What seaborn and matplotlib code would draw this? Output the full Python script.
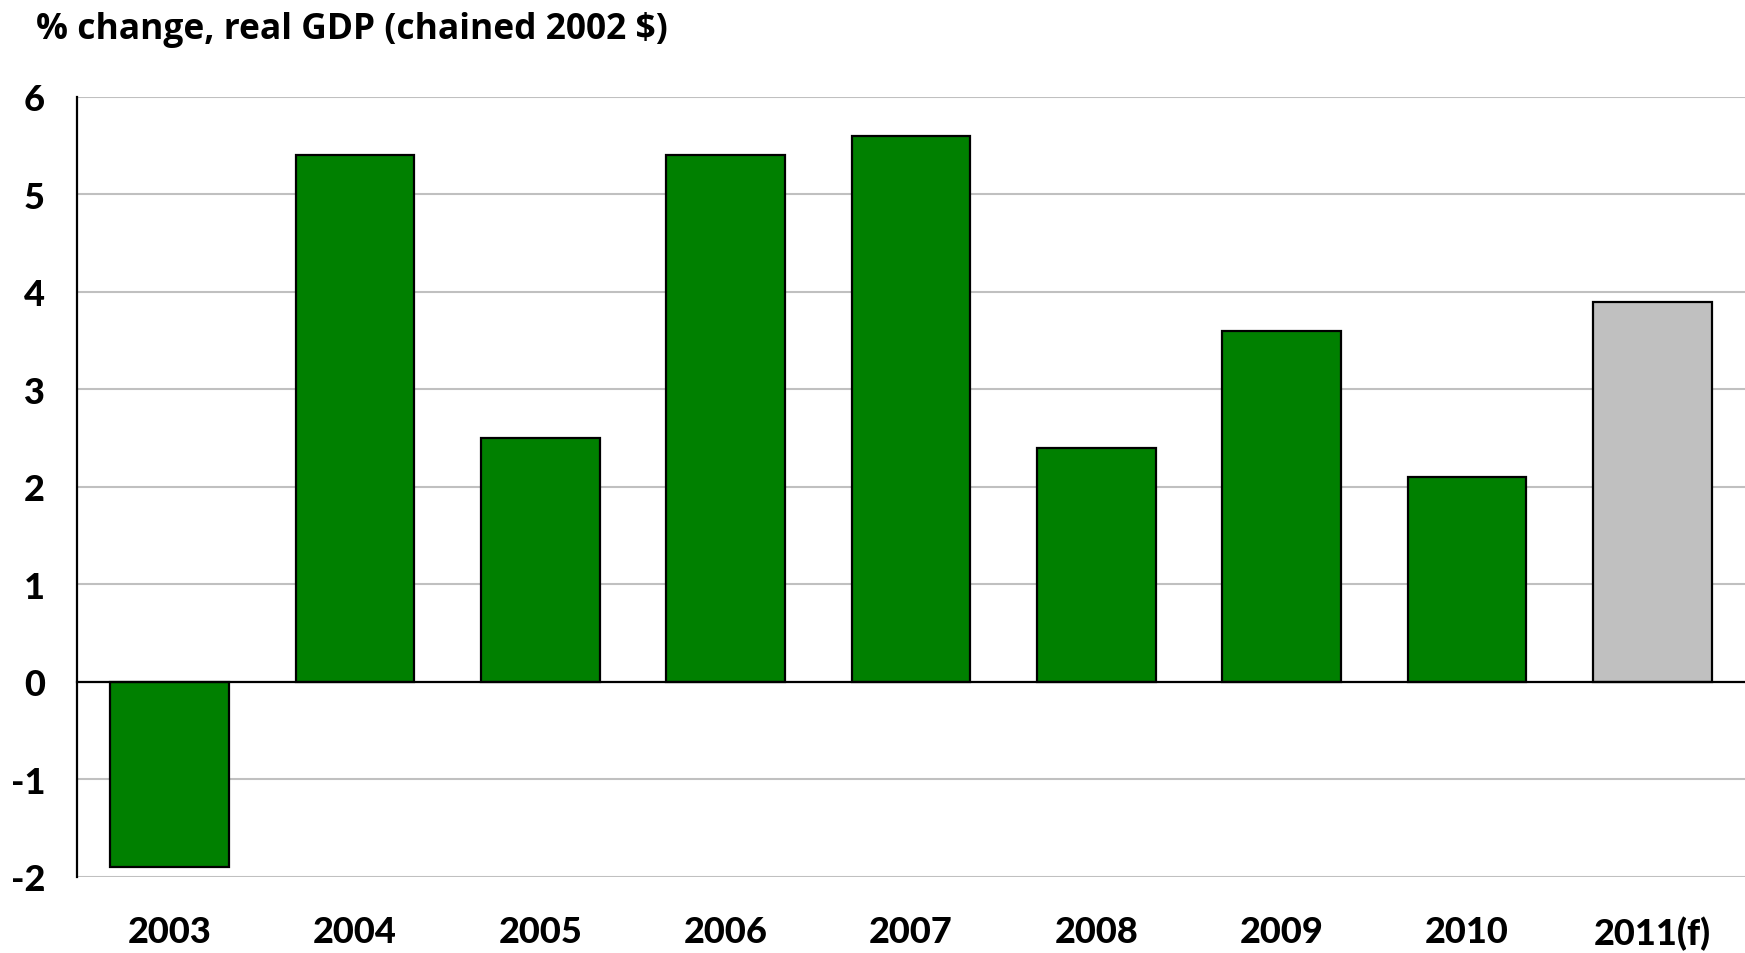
import numpy as np
import matplotlib
matplotlib.use("Agg")
import matplotlib.pyplot as plt
import seaborn as sns

years = ["2003", "2004", "2005", "2006", "2007", "2008", "2009", "2010", "2011(f)"]
growth = [-1.9, 5.4, 2.5, 5.4, 5.6, 2.4, 3.6, 2.1, 3.9]
bar_colors = ["#008000"] * 8 + ["#C0C0C0"]
title = "% change, real GDP (chained 2002 $)"

sns.set_style("white")
plt.rcParams["font.family"] = ["Lato", "DejaVu Sans"]
plt.rcParams["axes.unicode_minus"] = False
plt.rcParams["text.color"] = "black"
plt.rcParams["xtick.color"] = "black"
plt.rcParams["ytick.color"] = "black"

fig = plt.figure(figsize=(17.45, 9.54), dpi=100)
ax = fig.add_axes([0.0441, 0.0797, 0.9559, 0.8176])

sns.barplot(x=years, y=growth, hue=years, palette=bar_colors, legend=False, saturation=1,
            width=0.64, edgecolor="black", linewidth=1.6, ax=ax, zorder=3)

ax.set_ylim(-2, 6)
ax.set_xlim(-0.5, len(years) - 0.5)
ax.set_yticks(range(-2, 7))
ax.yaxis.grid(True, color="#C0C0C0", linewidth=1.5, zorder=0)
ax.set_axisbelow(True)

for s in ["top", "right"]:
    ax.spines[s].set_visible(False)
ax.spines["left"].set_color("black")
ax.spines["left"].set_linewidth(1.6)
ax.spines["bottom"].set_position(("data", 0))
ax.spines["bottom"].set_color("black")
ax.spines["bottom"].set_linewidth(1.6)
ax.spines["bottom"].set_zorder(4)

# ticks between categories on the zero line, labels down at the bottom
ax.set_xticks(np.arange(len(years)))
ax.set_xticklabels(years)
ax.set_xticks(np.arange(len(years) + 1) - 0.5, minor=True)
ax.tick_params(axis="x", which="major", length=0, pad=168, labelsize=26)
ax.tick_params(axis="x", which="minor", length=9, width=1.6, direction="out")
ax.tick_params(axis="y", length=9, width=1.6, direction="out", pad=14, labelsize=26)
for lab in ax.get_xticklabels() + ax.get_yticklabels():
    lab.set_fontweight(900)
ax.set_xlabel("")
ax.set_ylabel("")

fig.text(0.0205, 0.969, title, fontsize=25.5, fontweight="bold", va="center", ha="left",
         family=["Open Sans", "DejaVu Sans"])

fig.savefig("out.png", dpi=100)
